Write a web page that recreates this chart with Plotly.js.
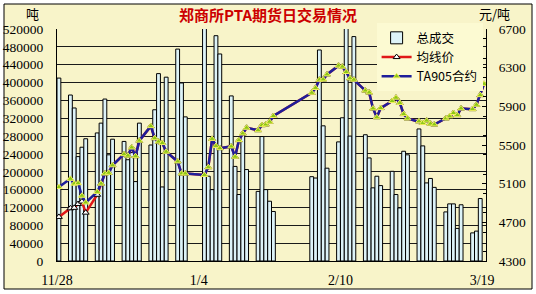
<!DOCTYPE html>
<html><head><meta charset="utf-8">
<script src="https://cdn.plot.ly/plotly-3.0.1.min.js"></script>
<style>html,body{margin:0;padding:0;background:#fff}#chart{width:536px;height:294px}</style>
</head><body><div id="chart"></div>
<script>
const dates = [
 '2008-11-28',
 '2008-12-01','2008-12-02','2008-12-03','2008-12-04','2008-12-05',
 '2008-12-08','2008-12-09','2008-12-10','2008-12-11','2008-12-12',
 '2008-12-15','2008-12-16','2008-12-17','2008-12-18','2008-12-19',
 '2008-12-22','2008-12-23','2008-12-24','2008-12-25','2008-12-26',
 '2008-12-29','2008-12-30','2008-12-31',
 '2009-01-05','2009-01-06','2009-01-07','2009-01-08','2009-01-09',
 '2009-01-12','2009-01-13','2009-01-14','2009-01-15','2009-01-16',
 '2009-01-19','2009-01-20','2009-01-21','2009-01-22','2009-01-23',
 '2009-02-02','2009-02-03','2009-02-04','2009-02-05','2009-02-06',
 '2009-02-09','2009-02-10','2009-02-11','2009-02-12','2009-02-13',
 '2009-02-16','2009-02-17','2009-02-18','2009-02-19','2009-02-20',
 '2009-02-23','2009-02-24','2009-02-25','2009-02-26','2009-02-27',
 '2009-03-02','2009-03-03','2009-03-04','2009-03-05','2009-03-06',
 '2009-03-09','2009-03-10','2009-03-11','2009-03-12','2009-03-13',
 '2009-03-16','2009-03-17','2009-03-18','2009-03-19'
];
const totalVolume = [
 410000,
 372000,343000,234000,255000,274000,
 287000,309000,363000,238000,273000,
 268000,227000,243000,178000,309000,
 260000,339000,420000,166000,412000,
 475000,399000,323000,
 530000,190000,160000,505000,464000,
 370000,212000,149000,287000,205000,
 156000,279000,160000,134000,111000,
 189000,186000,473000,303000,208000,
 267000,321000,530000,280000,503000,
 283000,231000,164000,190000,169000,
 201000,149000,119000,246000,238000,
 296000,258000,175000,185000,165000,
 110000,128000,128000,73000,126000,
 63000,67000,140000,null
];
const avgPrice = [
 4756,
 4845,4850,4890,4915,4800,
 4985,5100,5205,5212,5290,
 5405,5390,5474,5384,5545,
 5695,5570,5535,5520,5430,
 5330,5205,5205,
 5190,5270,5563,5490,5467,
 5485,5378,5550,5619,5678,
 5653,5705,5712,5740,5800,
 6040,6090,6175,6178,6230,
 6320,6310,6255,6190,6175,
 6063,6043,5878,5787,5882,
 5955,5989,5935,5820,5775,
 5745,5728,5752,5720,5712,
 5775,5797,5831,5809,5878,
 5871,5916,6016,6132
];
const ta905 = [
 5065,
 5150,5100,5105,4975,4905,
 5015,5100,5205,5212,5290,
 5405,5390,5474,5384,5545,
 5695,5570,5535,5520,5430,
 5330,5205,5205,
 5190,5270,5563,5490,5467,
 5485,5378,5550,5619,5678,
 5653,5705,5712,5740,5800,
 6040,6090,6175,6178,6230,
 6320,6310,6255,6190,6175,
 6063,6043,5878,5787,5882,
 5955,5989,5935,5820,5775,
 5745,5728,5752,5720,5712,
 5775,5797,5831,5809,5878,
 5871,5916,6016,6132
];
const tickDates = ['2008-11-28','2009-01-04','2009-02-10','2009-03-19'];
const tickLabels = ['11/28','1/4','2/10','3/19'];
const seriesNames = ['总成交','均线价','TA905合约'];

const DAY = 86400000;
const serif = 'Liberation Serif, Times New Roman, serif';
const cjk = 'Noto Sans CJK SC, sans-serif';

const traces = [
 {type:'bar', name:seriesNames[0], x:dates, y:totalVolume, xperiod:DAY, xperiodalignment:'middle',
  marker:{color:'#DDF3F8', line:{color:'#000', width:1}}, yaxis:'y'},
 {type:'scatter', mode:'lines+markers', name:seriesNames[1], x:dates, y:avgPrice, xperiod:DAY, xperiodalignment:'middle',
  line:{color:'#E01818', width:2.5}, marker:{symbol:'triangle-up', size:6, color:'#FFFFFF', line:{color:'#000', width:1}}, yaxis:'y2'},
 {type:'scatter', mode:'lines+markers', name:seriesNames[2], x:dates, y:ta905, xperiod:DAY, xperiodalignment:'middle',
  line:{color:'#1E1E9A', width:2.5}, marker:{symbol:'triangle-up', size:6, color:'#8CC814', line:{color:'#F4F060', width:1}}, yaxis:'y2'}
];

const layout = {
 width:536, height:294,
 margin:{l:57, r:50, t:29, b:33, pad:0},
 paper_bgcolor:'#FFFFFF',
 plot_bgcolor:'#FCFAD2',
 bargap:0,
 showlegend:true,
 legend:{x:0.745, y:1.025, xanchor:'left', yanchor:'top', bgcolor:'#FCFAD2', borderwidth:0,
   font:{family:cjk, size:12.5, color:'#000'}, itemwidth:30, tracegroupgap:0},
 title:{text:'郑商所PTA期货日交易情况', x:0.5, xref:'container', y:0.948, yanchor:'middle',
   font:{family:cjk, size:15, color:'#CC0000', weight:'bold'}},
 xaxis:{type:'date', range:['2008-11-28','2009-03-20'], tickvals:tickDates, ticktext:tickLabels,
   showgrid:false, showline:true, linecolor:'#000', linewidth:1, ticks:'', zeroline:false,
   ticklabelstandoff:6, tickfont:{family:serif, size:14, color:'#000'}},
 yaxis:{range:[0,520000], dtick:40000, tick0:0, showgrid:true, gridcolor:'#1a1a1a', gridwidth:1,
   showline:true, linecolor:'#000', linewidth:1, ticks:'', zeroline:false, tickformat:'d',
   ticklabelstandoff:10, tickfont:{family:serif, size:13.5, color:'#000'}},
 yaxis2:{range:[4300,6700], dtick:400, tick0:4300, overlaying:'y', side:'right', showgrid:false,
   showline:true, linecolor:'#000', linewidth:1, ticks:'inside', ticklen:4, tickcolor:'#000',
   minor:{dtick:200, ticks:'inside', ticklen:3, tickcolor:'#000'}, zeroline:false, tickformat:'d',
   ticklabelstandoff:9, tickfont:{family:serif, size:13.5, color:'#000'}},
 shapes:[
  {type:'rect', xref:'paper', yref:'paper', x0:(4-57)/429, x1:(532-57)/429, y0:(261-289)/232, y1:(261-4)/232,
   line:{color:'#000', width:1}, fillcolor:'#F8F4C9', layer:'below'}
 ],
 annotations:[
  {text:'吨', xref:'paper', yref:'paper', x:(32-57)/429, y:(261-13)/232, showarrow:false,
   font:{family:cjk, size:13, color:'#000'}, xanchor:'center', yanchor:'middle'},
  {text:'元/吨', xref:'paper', yref:'paper', x:(494-57)/429, y:(261-14)/232, showarrow:false,
   font:{family:cjk, size:13, color:'#000'}, xanchor:'center', yanchor:'middle'}
 ]
};
Plotly.newPlot('chart', traces, layout, {displayModeBar:false, staticPlot:true});
</script>
</body></html>
